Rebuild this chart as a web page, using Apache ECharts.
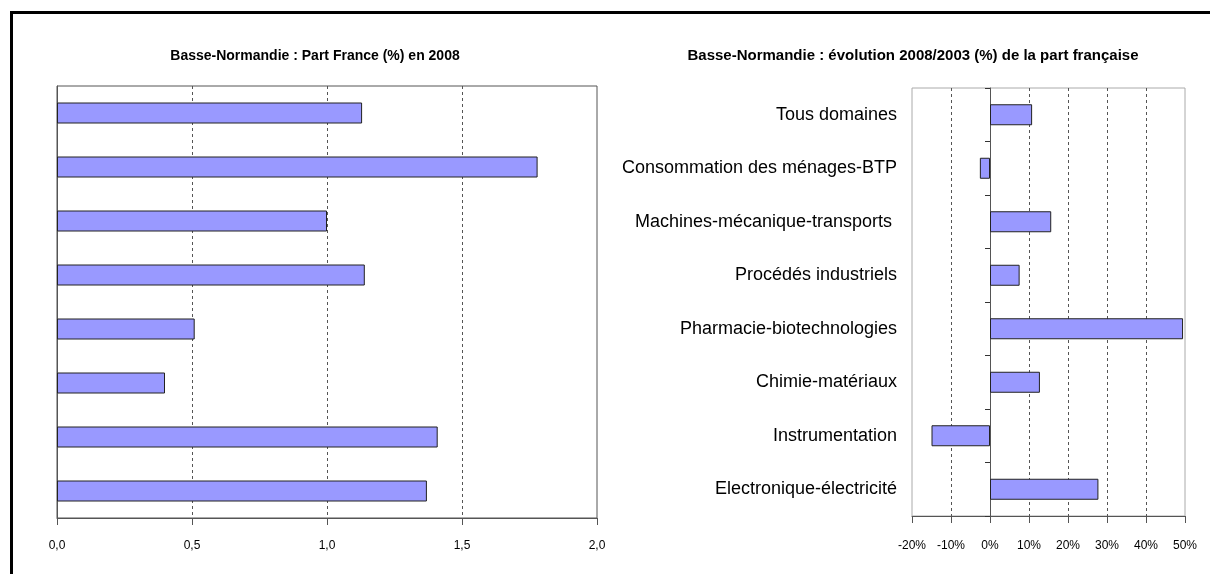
<!DOCTYPE html>
<html>
<head>
<meta charset="utf-8">
<script src="https://cdn.jsdelivr.net/npm/echarts@6/dist/echarts.min.js"></script>
<style>
html,body{margin:0;padding:0;background:#fff;}
#c{width:1210px;height:574px;}
</style>
</head>
<body>
<div id="c"></div>
<script>
const categories = ['Tous domaines','Consommation des ménages-BTP','Machines-mécanique-transports ','Procédés industriels','Pharmacie-biotechnologies','Chimie-matériaux','Instrumentation','Electronique-électricité'];
const part2008 = [1.13, 1.78, 1.00, 1.14, 0.51, 0.40, 1.41, 1.37];
const evolution = [10.8, -2.6, 15.7, 7.6, 49.5, 12.8, -15.0, 27.8];
const titleLeft = 'Basse-Normandie : Part France (%) en 2008';
const titleRight = 'Basse-Normandie : évolution 2008/2003 (%) de la part française';

const FONT = "'Liberation Sans', Arial, sans-serif";
const chart = echarts.init(document.getElementById('c'), null, {renderer:'canvas'});
const barStyle = {color:'#9999FF', borderColor:'#222', borderWidth:1};

chart.setOption({
  animation:false,
  backgroundColor:'#fff',
  title:[
    {text:titleLeft, left:310, top:44, textAlign:'center',
     textStyle:{fontFamily:FONT, fontSize:14, fontWeight:'bold', color:'#000'}},
    {text:titleRight, left:908, top:43, textAlign:'center',
     textStyle:{fontFamily:FONT, fontSize:15, fontWeight:'bold', color:'#000'}}
  ],
  grid:[
    {left:57, right:613, top:86, bottom:56, show:true, borderColor:'#555', borderWidth:1},
    {left:912, right:25, top:88, bottom:58, show:true, borderColor:'#aaa', borderWidth:1}
  ],
  xAxis:[
    {type:'value', gridIndex:0, min:0, max:2, interval:0.5,
     axisLine:{show:true, lineStyle:{color:'#555'}},
     axisTick:{show:true, length:7, lineStyle:{color:'#555'}},
     axisLabel:{margin:22, fontFamily:FONT, fontSize:12, color:'#000',
       formatter:v=>v.toFixed(1).replace('.',',')},
     splitLine:{show:true, showMinLine:false, showMaxLine:false, lineStyle:{color:'#555', type:[3,3]}}},
    {type:'value', gridIndex:1, min:-20, max:50, interval:10,
     axisLine:{show:true, onZero:false, lineStyle:{color:'#555'}},
     axisTick:{show:true, length:7, lineStyle:{color:'#555'}},
     axisLabel:{margin:24, fontFamily:FONT, fontSize:12, color:'#000', formatter:v=>v+'%'},
     splitLine:{show:true, showMinLine:false, showMaxLine:false, lineStyle:{color:'#555', type:[3,3]}}}
  ],
  yAxis:[
    {type:'category', gridIndex:0, data:categories, inverse:true,
     axisLine:{show:true, lineStyle:{color:'#555'}},
     axisTick:{show:false}, axisLabel:{show:false}, splitLine:{show:false}},
    {type:'category', gridIndex:1, data:categories, inverse:true,
     axisLine:{show:false, onZero:false}, axisTick:{show:false},
     axisLabel:{show:true, margin:15, fontFamily:FONT, fontSize:18, color:'#000'},
     splitLine:{show:false}},
    {type:'category', gridIndex:1, data:categories, inverse:true, position:'left',
     axisLine:{show:true, onZero:true, lineStyle:{color:'#555'}},
     axisTick:{show:true, length:5, lineStyle:{color:'#333'}},
     axisLabel:{show:false}, splitLine:{show:false}}
  ],
  series:[
    {type:'bar', xAxisIndex:0, yAxisIndex:0, data:part2008, barWidth:21, itemStyle:barStyle},
    {type:'bar', xAxisIndex:1, yAxisIndex:1, data:evolution, barWidth:21, itemStyle:barStyle}
  ],
  graphic:[
    {type:'line', shape:{x1:10, y1:12.5, x2:1210, y2:12.5}, style:{stroke:'#000', lineWidth:3}},
    {type:'line', shape:{x1:11.5, y1:11, x2:11.5, y2:574}, style:{stroke:'#000', lineWidth:3}}
  ]
});
</script>
</body>
</html>
